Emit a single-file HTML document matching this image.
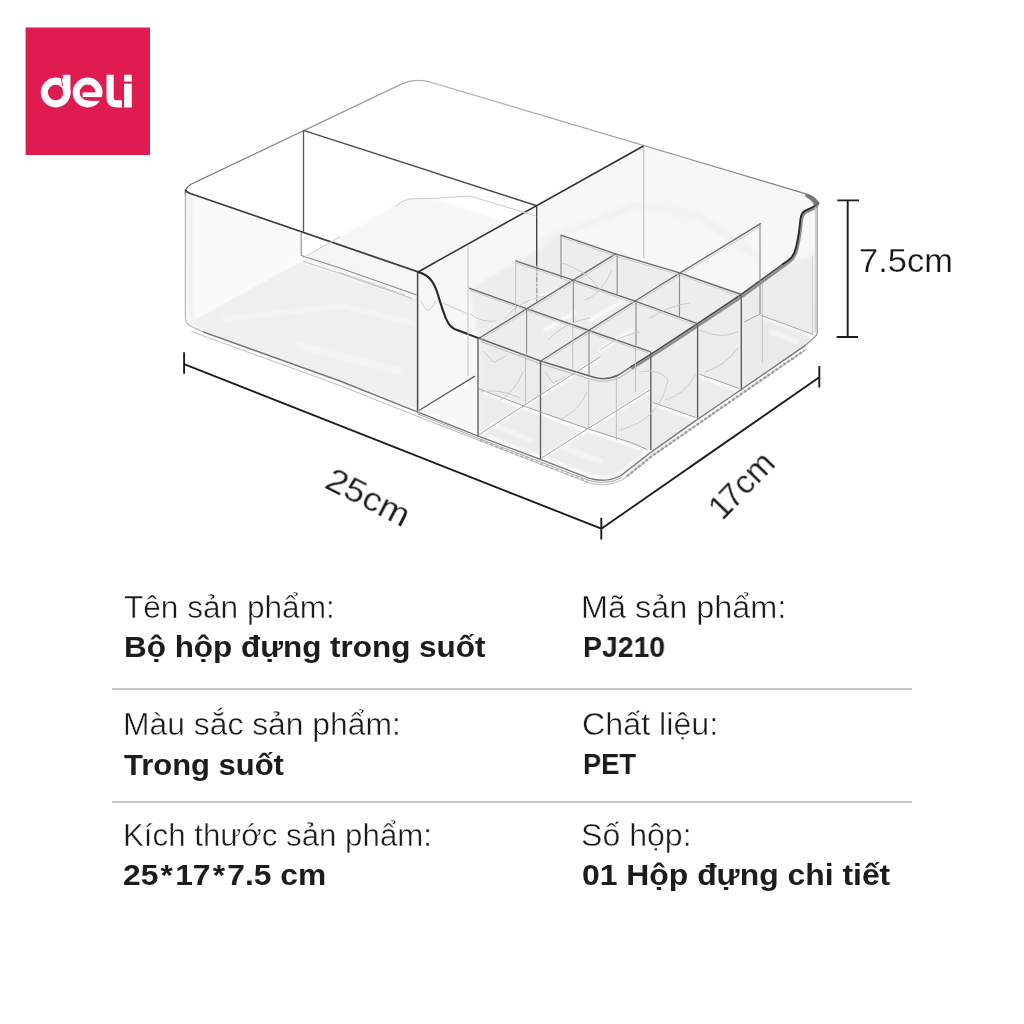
<!DOCTYPE html>
<html lang="vi">
<head>
<meta charset="utf-8">
<title>deli PJ210</title>
<style>
html,body{margin:0;padding:0;background:#fff;}
body{width:1024px;height:1024px;position:relative;overflow:hidden;font-family:"Liberation Sans",sans-serif;color:#1f1f1f;}
#art{position:absolute;left:0;top:0;width:1024px;height:1024px;}
.t{position:absolute;white-space:nowrap;line-height:1;transform-origin:0 0;will-change:transform;}
.l{font-size:31px;font-weight:400;color:#1a1a1a;-webkit-text-stroke:0.45px #fff;}
.b{font-size:30px;font-weight:700;color:#1c1c1c;}
.hr{position:absolute;height:2px;background:#c6c6ca;left:112px;width:800px;}
</style>
</head>
<body>


<svg id="art" viewBox="0 0 1024 1024">
<!-- LOGO -->
<rect x="25.6" y="27.5" width="124.4" height="127.5" fill="#e01b50"/>
<g fill="none" stroke="#fff">
<circle cx="55.7" cy="92.5" r="11.35" stroke-width="7.1"/>
<path d="M66.6 74.8V94" stroke-width="7.6"/>
<circle cx="87.6" cy="92.5" r="11.4" stroke-width="7"/>
<path d="M82.6 94.7H100" stroke-width="4.7"/>
<path d="M88.5 99H104" stroke="#e01b50" stroke-width="3.7"/>
<path d="M61.3 78.2L62.6 86" stroke="#e01b50" stroke-width="0.9"/>
<path d="M110.1 74.8V97.6Q110.1 103.8 116.4 103.8H122" stroke-width="7.2"/>
<path d="M127.9 83.8V107.4M127.9 74.8V81.5" stroke-width="7.7"/>
</g>
<!-- PRODUCT -->
<defs>
<filter id="soft" x="-5%" y="-5%" width="110%" height="110%"><feGaussianBlur stdDeviation="0.55"/></filter>
<filter id="soft2" x="-5%" y="-5%" width="110%" height="110%"><feGaussianBlur stdDeviation="1.4"/></filter>
<filter id="soft3" x="-5%" y="-5%" width="110%" height="110%"><feGaussianBlur stdDeviation="0.9"/></filter>
<linearGradient id="grim" gradientUnits="userSpaceOnUse" x1="185" y1="0" x2="818" y2="0"><stop offset="0" stop-color="#6e6e6e"/><stop offset="0.3" stop-color="#9a9a9a"/><stop offset="0.4" stop-color="#b4b4b4"/><stop offset="0.7" stop-color="#a0a0a0"/><stop offset="1" stop-color="#7a7a7a"/></linearGradient>
</defs>
<g id="fills" filter="url(#soft2)" stroke="none">
<!-- left wall strip + floor of left front compartment -->
<path d="M186 193L194 196L194 318L187 321Z" fill="#f1f1f1"/>
<path d="M190 323L196 317.5L303 258.8L418 297L418 410.5L205 332.5Z" fill="#efefef"/>
<path d="M196 197L303 232L303 258L196 317Z" fill="#fafafa"/>
<!-- back-left compartment floor seen through B -->
<path d="M303 258L397 204.5Q404 199.5 414 198.5L432 198.5L536 231L536 300L418 296Z" fill="#f6f6f6"/>
<!-- region right of A: back compartments -->
<path d="M418 272L643 147L806 194L817 204L817 333L806 345L623 475L606 481L589 478L418 411Z" fill="#f7f7f7"/>
<!-- shadow band in back compartment -->
<path d="M540 238L640 200L700 212L762 255L762 265L700 222L640 208L540 246Z" fill="#f2f2f2"/>
<!-- grid cells -->
<path d="M470 289L561 236L741 295L606 380L479 339Z" fill="#ededed"/>
<!-- front faces of lowered section -->
<path d="M479 340L606 381L790 262L812 256L816 333L623 475L606 481L479 436Z" fill="#ececec"/>
<!-- floor of back-right compartment -->
<path d="M762 316L813 334.5L806 345L744 388L744 322Z" fill="#eaeaea"/>
</g>
<!-- white reflections -->
<g id="refl" fill="none" stroke="#fff" stroke-linecap="round" filter="url(#soft3)">
<path d="M197 316.6L303.4 258.2" stroke-width="2.2"/>
<path d="M225 319L342 306L416 324" stroke-width="6" opacity="0.35"/>
<path d="M300 345L400 372" stroke-width="9" opacity="0.3"/>
<path d="M304 262L414 298" stroke-width="2" opacity="0.9"/>
<path d="M481 433.6L537 398L598 359.5" stroke-width="3"/>
<path d="M543.5 457L589 429L648 392" stroke-width="3"/>
<path d="M481 391.2L525 408.2L586 430.2L646 451.2" stroke-width="3"/>
<path d="M654 404.7L695 419.2" stroke-width="2.8"/>
<path d="M701 376.7L739 390.2" stroke-width="2.8"/>
<path d="M421 411.5L474 378.5" stroke-width="2.6"/>
<path d="M422 411L478 433L541 456.5L589 475Q606 480 619 473.5L650 449.5" stroke-width="2.2" opacity="0.9"/>
<path d="M763 317.5L812 336" stroke-width="2"/>
<path d="M772 332L796 341" stroke-width="6" opacity="0.45"/>
<path d="M565 448L600 461" stroke-width="6" opacity="0.45"/>
<path d="M492 425L530 440" stroke-width="5" opacity="0.5"/>
<path d="M530 300L560 290M590 320L625 300M545 330L575 312M600 350L632 330" stroke-width="4" opacity="0.7"/>
</g>
<g id="lines" fill="none" stroke-linecap="round" stroke-linejoin="round" filter="url(#soft)">
<!-- outer rim back edges -->
<path d="M185.3 195Q184.6 188.2 191 184.2L402.5 83.6Q414 78.6 427.5 81.3L806 193.8Q815 196.6 818.2 202.6" stroke="url(#grim)" stroke-width="1.2"/>
<!-- left outer vertical -->
<path d="M185.4 194V318.5Q186 323.5 190.5 326L203.4 332" stroke="#b0b0b0" stroke-width="1.1"/>
<!-- front top rim edge (dark) -->
<path d="M185.4 190.2Q186.8 192.5 191 193.7L418.1 271.9" stroke="#3d3d3d" stroke-width="1.7"/>
<!-- divider B -->
<path d="M304.2 130.6L535.9 205.5" stroke="#4c4c4c" stroke-width="1.45"/>
<path d="M303.5 131V231" stroke="#555" stroke-width="1.3"/>
<path d="M301.2 233.5V255.5L340 268L416 294.8" stroke="#8a8a8a" stroke-width="1.1"/>
<path d="M303.5 261.5L340 273.5L412 298.5" stroke="#bdbdbd" stroke-width="1"/>
<!-- divider A -->
<path d="M418.1 271.9L643 146.2" stroke="#333" stroke-width="1.7"/>
<path d="M417.6 272.5V410.8" stroke="#484848" stroke-width="1.5"/>
<path d="M536.7 206.5V265" stroke="#444" stroke-width="1.4"/>
<path d="M536.9 266V301" stroke="#8a8a8a" stroke-width="1.1" stroke-dasharray="5 2 2 2"/>
<path d="M643.8 147V258" stroke="#bdbdbd" stroke-width="1"/>
<path d="M419.7 410L474.4 376.4" stroke="#5c5c5c" stroke-width="1.3"/>
<!-- lowered rim (gray, double) -->
<path d="M466.4 333.5L479 338.3L540.6 361L593.8 377.3Q606 381 618.4 375L631.3 366.6" stroke="#666" stroke-width="1.45"/>
<path d="M631.3 366.6L660 348.4L697.5 323.6L741.3 294.5L783 264.1" stroke="#454545" stroke-width="1.6"/>
<path d="M481 341.6L540 363.6L593 379.9Q606 383.6 619.5 377.6L633 369" stroke="#b0b0b0" stroke-width="0.9"/>
<!-- scoops (dark) -->
<path d="M418.1 272.1C426 274.5 429.5 278 431.3 280.3C433.5 283.5 434.5 285.5 435.2 287.1C437 291 437.8 294 438.6 296.9L442 307.6C443.5 312 444.5 315 445.9 318.4C447.5 322 449 324.5 450.8 326.2C452.5 328 454 328.9 455.7 329.6L466.4 333.5" stroke="#262626" stroke-width="2.1"/>
<path d="M466.4 333.5L479 338.3" stroke="#333" stroke-width="1.8"/>
<path d="M632.5 368.2L661.5 350L699 325.2L742.8 296.1L784.2 265.9C789 262.6 791.7 260.2 793 258.7C795.7 255 796.8 251.5 797.5 248C799 241.5 799.6 237.5 800.1 234C801 227.5 801.2 223.5 801.8 220C802.5 216 803.7 214 805.3 212.9C808 211.2 811 210.2 814 208.6Q817 206.8 818.3 203.5" stroke="#8f8f8f" stroke-width="2.6"/>
<path d="M783 264.1C788 260.8 790.5 258.5 791.8 257.1C794.5 253.5 795.5 250 796.2 246.6C797.8 240 798.4 236 798.9 232.5C799.8 226 800 222 800.6 218.4C801.3 214.5 802.5 212.5 804.1 211.4C807 209.5 810 208.5 812.9 207Q816.5 205.3 818 202.8" stroke="#2a2a2a" stroke-width="1.9"/>
<path d="M806 193.8Q815 196.6 818.2 202.6L815 205.5Q812 199.5 806 196.5Z" fill="#777" stroke="#777" stroke-width="0.8"/>
<!-- right outer verticals -->
<path d="M817.2 205V332.8Q816.4 336 814.2 337.6L805.3 345.3" stroke="#9a9a9a" stroke-width="1.3"/>
<path d="M815.4 207V332" stroke="#c6c6c6" stroke-width="0.9"/>
<path d="M812.5 256V333" stroke="#cacaca" stroke-width="0.9"/>
<!-- grid tops -->
<g stroke="#6a6a6a" stroke-width="1.35">
<path d="M479 338.3L615.6 253.9"/>
<path d="M540.6 361L660 285.2L760.5 223.7"/>
<path d="M469.7 288.3L526.6 308.6L589 330.5L650 351.6"/>
<path d="M515.6 260.9L571.9 279.7L634.4 300.8L697.5 323.6"/>
<path d="M560.9 235.2L615.6 253.9L678.8 272.7L741.3 294.5"/>
</g>
<g stroke="#c4c4c4" stroke-width="0.8">
<path d="M481.5 339.3L617 255.8"/>
<path d="M543 362L662 286.6L760.5 226.3"/>
<path d="M471 290.6L526.6 310.6L589 332.5L648 353"/>
<path d="M517 263.2L571.9 281.8L634.4 302.9L695 325"/>
<path d="M562.5 237.6L615.6 256L678.8 274.8L739 296"/>
</g>
<!-- grid verticals -->
<g stroke="#8c8c8c" stroke-width="1.15">
<path d="M526.6 309.4V353"/>
<path d="M573.4 281V322"/>
<path d="M617.2 254.7V294"/>
<path d="M589 331V375"/>
<path d="M636 302V345"/>
<path d="M679.5 273.4V315.6"/>
<path d="M760 225V314"/>
<path d="M561 235.5V278"/>
</g>
<g stroke="#5e5e5e" stroke-width="1.35">
<path d="M478 338.5V436.6"/>
<path d="M540.5 361V459.4"/>
<path d="M650.8 352.5V449.4"/>
<path d="M697.6 325V418"/>
<path d="M741.3 295.5V390"/>
</g>
<g stroke="#c0c0c0" stroke-width="0.95">
<path d="M515.6 261.5V312.5"/>
<path d="M468 245V376"/>
<path d="M588.8 379V428"/>
<path d="M525.5 356V403"/>
<path d="M616.4 378V440"/>
<path d="M762.3 284.4V362.5"/>
<path d="M572.8 325V370"/>
<path d="M635.5 348V392"/>
</g>
<!-- floor lines -->
<g stroke="#a3a3a3" stroke-width="1">
<path d="M479.4 434.4L537.2 396.9L600 357"/>
<path d="M541.9 457.8L588.8 428.1L650 390"/>
<path d="M479.4 389L524.7 406.3L585.6 428L630 442.2L646.9 449.4"/>
<path d="M653 402.5L695.3 417.3"/>
<path d="M700 374.4L739 388.4"/>
<path d="M761.6 315.6L813 334.4"/>
<path d="M744.4 321.9L760 314"/>
</g>
<!-- faint reflections -->
<g stroke="#c9c9c9" stroke-width="1">
<path d="M421 301Q424 309 428 310.5Q432 309 435 301.5"/>
<path d="M443 303L468 314"/>
<path d="M470 314Q482 323 496 321"/>
<path d="M484 351.6L493.8 362.5L506 356"/>
<path d="M545 372L553 383L565 377"/>
<path d="M480 392Q500 388 520 398"/>
<path d="M340 272.5L405 295"/>
<path d="M396 206Q402 200 412 198.8L432 198.5"/>
<path d="M432 198.5L470 196L536 216"/>
<path d="M340 237L303 258"/>
<path d="M560 262Q590 272 600 290"/>
<path d="M585 300Q600 296 612 270"/>
<path d="M505 318Q520 300 545 296"/>
<path d="M548 340Q565 322 590 318"/>
<path d="M600 350Q620 335 640 332"/>
<path d="M650 318Q670 305 690 303"/>
<path d="M500 400Q515 392 523 372"/>
<path d="M560 420Q580 410 587 392"/>
<path d="M620 430Q660 420 668 380Q660 368 640 372"/>
<path d="M665 400Q685 395 695 375"/>
<path d="M705 372Q725 366 738 348"/>
<path d="M700 330Q720 340 738 332"/>
</g>
<!-- bottom edges -->
<path d="M203.4 332L340 381L416.6 411.6L477.5 435.8L540.3 459.4L588.8 478.1Q606 483.5 621 475.5L651.6 451.7L696.9 419.7L740.6 390L805.3 345.3" stroke="#777" stroke-width="1.4"/>
<path d="M192 331.5L205 336.5L340 385.5L416.6 416L540 464L588 482.5Q606 488 623 479.5L652 456L741 394.5L806 349.5" stroke="#c4c4c4" stroke-width="1.2"/>
<path d="M418 414L478 438.2L540.3 461.8L588.8 480.4Q606 485.8 622 477.5" stroke="#a8a8a8" stroke-width="1"/>

</g>
<g id="ribs" fill="none">
<path d="M627 476.2L652.5 455.6L741 394L804 350.6" stroke="#777" stroke-width="2.4" stroke-dasharray="3 1.8" opacity="0.6"/>
<path d="M480 440.3L540 463.3L588 481.8" stroke="#8a8a8a" stroke-width="2" stroke-dasharray="3 2.4" opacity="0.45"/>
</g>
<!-- /PRODUCT -->
<!-- dimension lines -->
<g fill="none" stroke="#1c1c1c" stroke-width="1.9">
<path d="M184.1 352.3V373.8M184.1 364.1L601.3 528.7M601.3 517.8V539.4M601.3 528.7L819.3 377.3M819.3 366V387.5"/>
<path d="M837.4 200.4H859M847.7 200.4V337M836.6 337H858"/>
</g>
</svg>

<div class="t l" id="dim75" style="left:859px;top:243.9px;font-size:33px;color:#161616;-webkit-text-stroke:0.25px #fff;transform:scaleX(1.045);">7.5cm</div>
<div class="t l" id="dim25" style="left:335.8px;top:462px;font-size:33px;color:#161616;-webkit-text-stroke:0.25px #fff;transform:rotate(27deg) scaleX(1.11);">25cm</div>
<div class="t l" id="dim17" style="left:700px;top:503.8px;font-size:33px;color:#161616;-webkit-text-stroke:0.25px #fff;transform:rotate(-46deg) scaleX(1.01);"><span style="position:relative;left:3px">1</span>7cm</div>

<div class="t l" id="l1" style="left:123.7px;top:591.6px;transform:scaleX(1.0192);">Tên sản phẩm:</div>
<div class="t b" id="b1" style="left:124.0px;top:632.2px;transform:scaleX(1.0478);">Bộ hộp đựng trong suốt</div>
<div class="t l" id="l2" style="left:581.0px;top:591.6px;transform:scaleX(1.0455);">Mã sản phẩm:</div>
<div class="t b" id="b2" style="left:582.6px;top:631.9px;transform:scaleX(0.9464);">PJ210</div>
<div class="hr" style="top:688px;"></div>
<div class="t l" id="l3" style="left:122.5px;top:708.8px;transform:scaleX(1.0268);">Màu sắc sản phẩm:</div>
<div class="t b" id="b3" style="left:124.2px;top:749.8px;transform:scaleX(1.0316);">Trong suốt</div>
<div class="t l" id="l4" style="left:581.6px;top:709.3px;transform:scaleX(1.0405);">Chất liệu:</div>
<div class="t b" id="b4" style="left:583.1px;top:749.4px;transform:scaleX(0.9089);">PET</div>
<div class="hr" style="top:800.6px;height:2.3px;"></div>
<div class="t l" id="l5" style="left:122.9px;top:819.9px;transform:scaleX(1.0083);">Kích thước sản phẩm:</div>
<div class="t b" id="b5" style="left:123.0px;top:859.7px;transform:scaleX(1.059);">25<span style="margin:0 2.1px">*</span>17<span style="margin:0 2.1px">*</span>7.5 cm</div>
<div class="t l" id="l6" style="left:581.3px;top:819.9px;transform:scaleX(1.0353);">Số hộp:</div>
<div class="t b" id="b6" style="left:582.3px;top:859.7px;transform:scaleX(1.0626);">01 Hộp đựng chi tiết</div>
</body>
</html>
